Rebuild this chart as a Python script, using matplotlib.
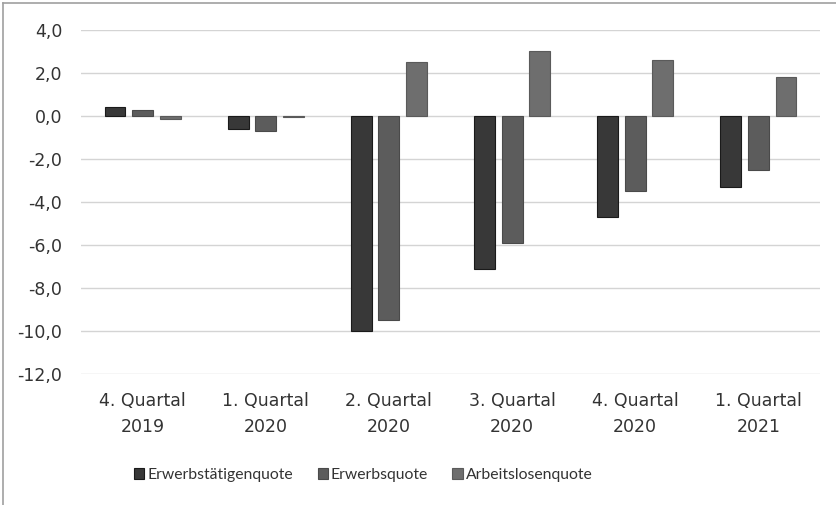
import matplotlib
matplotlib.use("Agg")
import matplotlib.pyplot as plt
import numpy as np
from matplotlib.lines import Line2D

categories = ["4. Quartal\n2019", "1. Quartal\n2020", "2. Quartal\n2020",
              "3. Quartal\n2020", "4. Quartal\n2020", "1. Quartal\n2021"]
series_names = ["Erwerbstätigenquote", "Erwerbsquote", "Arbeitslosenquote"]
erwerbstaetigenquote = [0.4, -0.6, -10.0, -7.1, -4.7, -3.3]
erwerbsquote = [0.3, -0.7, -9.5, -5.9, -3.5, -2.5]
arbeitslosenquote = [-0.15, -0.05, 2.5, 3.0, 2.6, 1.8]
yticks = [4, 2, 0, -2, -4, -6, -8, -10, -12]

plt.rcParams['font.family'] = ['DejaVu Sans']

fig = plt.figure(figsize=(8.37, 5.05), dpi=100)
ax = fig.add_axes([81/837, 1-374/505, (820-81)/837, (374-30)/505])

x = np.arange(len(categories))
colors = ["#383838", "#5c5c5c", "#6e6e6e"]
edges = ["#1a1a1a", "#4a4a4a", "#5a5a5a"]
offsets = [-0.224, 0.0, 0.224]
data = [erwerbstaetigenquote, erwerbsquote, arbeitslosenquote]
for vals, c, e, off, name in zip(data, colors, edges, offsets, series_names):
    ax.bar(x + off, vals, width=0.17, color=c, edgecolor=e, linewidth=0.8,
           label=name, zorder=3)

ax.set_xlim(-0.5, len(categories) - 0.5)
ax.set_ylim(-12, 4)
ax.set_yticks(yticks)
ax.set_yticklabels([f"{v:.1f}".replace(".", ",") for v in yticks])
ax.set_xticks(x)
ax.set_xticklabels(categories, linespacing=1.55)
ax.tick_params(axis='both', length=0, labelsize=12.5, colors="#333333")
ax.tick_params(axis='x', pad=13)
ax.tick_params(axis='y', pad=13.5)
ax.yaxis.grid(True, color="#d4d4d4", linewidth=1.0, zorder=0)
ax.set_axisbelow(True)
for s in ax.spines.values():
    s.set_visible(False)

fig.add_artist(Line2D([3/837, 1.0], [1-3/505, 1-3/505], color="#a0a0a0", lw=1.2))
fig.add_artist(Line2D([3/837, 3/837], [0, 1-3/505], color="#a0a0a0", lw=1.2))

handles, labels = ax.get_legend_handles_labels()
leg = fig.legend(handles, labels, loc="center left", bbox_to_anchor=(128/837, 1-475/505),
                 ncol=3, frameon=False, prop={'family': 'Lato', 'size': 11.3},
                 handlelength=0.65, handleheight=0.7,
                 handletextpad=0.2, columnspacing=1.55, borderaxespad=0)
for t in leg.get_texts():
    t.set_color("#333333")

fig.savefig("out.png", dpi=100, facecolor="white")
